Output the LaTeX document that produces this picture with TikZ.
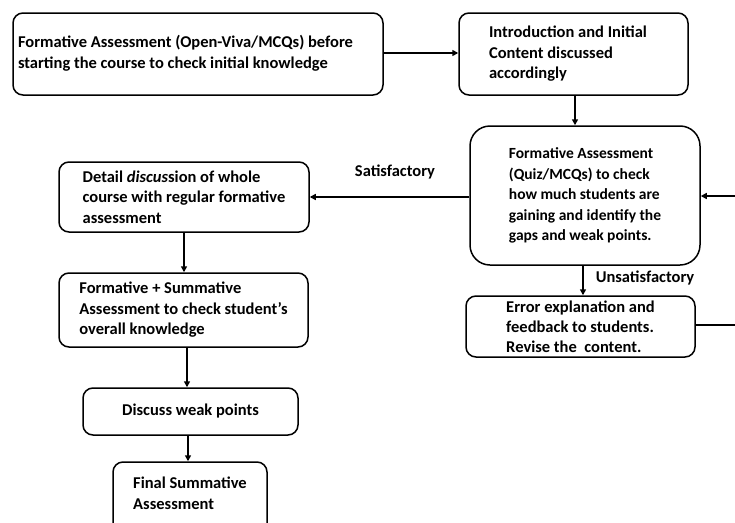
\documentclass[tikz,border=0pt]{standalone}
\usepackage{fontspec}
\setmainfont{Carlito}
\usetikzlibrary{arrows.meta}
\newcommand{\lns}[1]{\begin{tabular}{@{}l@{}}#1\end{tabular}}
\begin{document}
\begin{tikzpicture}[x=1pt,y=-1pt,
  box/.style={draw, line width=1.5pt, rounded corners=10pt, align=left,
    font=\fontsize{16.5}{20.5}\selectfont\bfseries, inner sep=0pt},
  conn/.style={line width=1.6pt, -{Triangle[length=6pt,width=6pt]}},
  lbl/.style={font=\fontsize{16.5}{19}\selectfont\bfseries, inner sep=0pt}]
\useasboundingbox (0,0) rectangle (735,522);
\clip (0,0) rectangle (735,522);
\node[box, minimum width=370pt, minimum height=82pt] (b1) at (198,54)
  {\lns{Formative Assessment (Open-Viva/MCQs) before\\starting the course to check initial knowledge}\hspace*{25pt}};
\node[box, minimum width=229pt, minimum height=82pt] (b2) at (573.5,54)
  {\lns{Introduction and Initial\\Content discussed\\accordingly}\hspace*{11pt}};
\node[box, rounded corners=20pt, minimum width=230pt, minimum height=139pt,
  font=\fontsize{15.5}{20.5}\selectfont\bfseries] (b3) at (585,195.5)
  {Formative Assessment\\(Quiz/MCQs) to check\\how much students are\\gaining and identify the\\gaps and weak points.};
\node[box, minimum width=229pt, minimum height=61pt,
  font=\fontsize{16.5}{20}\selectfont\bfseries] (b4) at (580.5,326.5)
  {Error explanation and\\feedback to students.\\Revise the\ \ content.};
\node[box, minimum width=250pt, minimum height=70pt] (b5) at (184,197)
  {Detail \textit{discus}sion of whole\\course with regular formative\\assessment};
\node[box, minimum width=249pt, minimum height=74pt] (b6) at (183.5,310)
  {Formative + Summative\\Assessment to check student's\\overall knowledge};
\node[box, minimum width=215pt, minimum height=47pt] (b7) at (190.5,411.5)
  {Discuss weak points};
\node[box, minimum width=154pt, minimum height=80pt] (b8) at (190,502)
  {\raisebox{3pt}[0pt][0pt]{\lns{Final Summative\\Assessment}}};
\coordinate (r1) at (760,325);
\coordinate (r2) at (760,196);
\draw[conn] (b1.east |- 0,53) -- (b2.west |- 0,53);
\draw[conn] (b2.south -| 575,0) -- (b3.north -| 575,0);
\draw[conn] (b3.west |- 0,197) -- (b5.east |- 0,197);
\draw[conn] (b3.south -| 583,0) -- (b4.north -| 583,0);
\draw[line width=1.6pt] (b4.east |- 0,325) -- (r1) -- (r2);
\draw[conn] (r2) -- (b3.east |- 0,196);
\draw[conn] (b5.south -| 184,0) -- (b6.north -| 184,0);
\draw[conn] (b6.south -| 187,0) -- (b7.north -| 187,0);
\draw[conn] (b7.south -| 188,0) -- (b8.north -| 188,0);
\node[lbl] (sat) at (395,172) {Satisfactory};
\node[lbl] (unsat) at (645,278) {Unsatisfactory};
\end{tikzpicture}
\end{document}
